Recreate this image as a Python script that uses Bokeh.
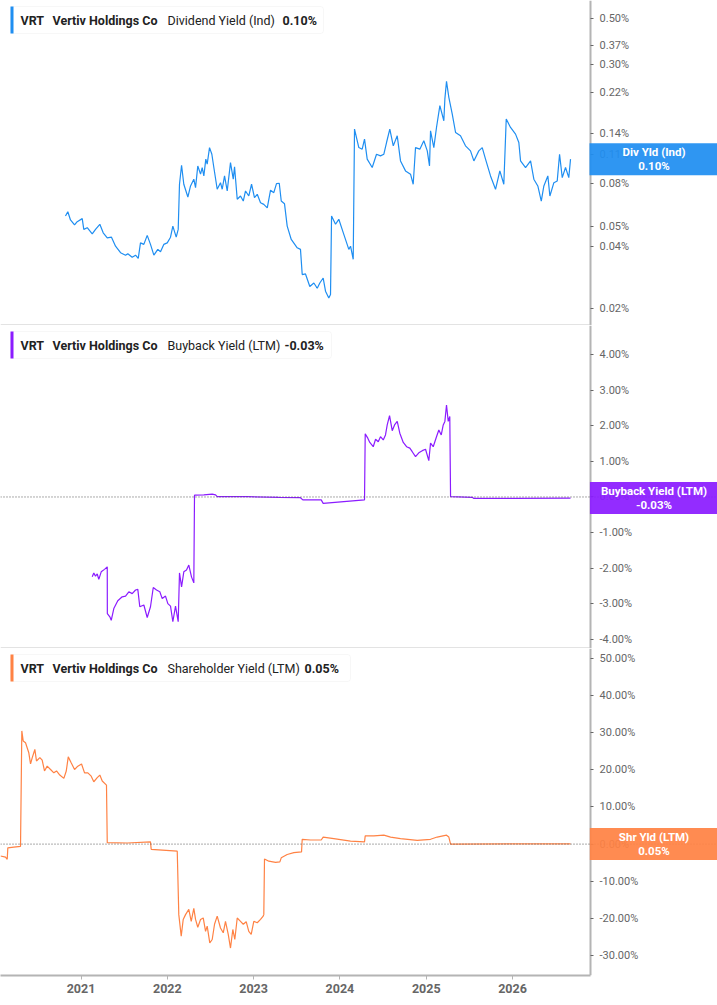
from bokeh.plotting import figure
from bokeh.models import (Range1d, FixedTicker, PrintfTickFormatter, Span, Label,
                          BoxAnnotation, ColumnDataSource, LinearAxis, LogAxis)
from bokeh.layouts import column
from bokeh.embed import file_html
from bokeh.resources import INLINE

ticker = "VRT"
company = "Vertiv Holdings Co"
year_ticks = [2021, 2022, 2023, 2024, 2025, 2026]

div_years = [2020.820, 2020.847, 2020.878, 2020.925, 2020.956, 2021.014, 2021.032, 2021.072, 2021.130, 2021.168,
             2021.218, 2021.257, 2021.304, 2021.353, 2021.400, 2021.458, 2021.516, 2021.542, 2021.593, 2021.632,
             2021.663, 2021.689, 2021.728, 2021.767, 2021.805, 2021.844, 2021.890, 2021.921, 2021.959, 2021.999,
             2022.037, 2022.064, 2022.103, 2022.126, 2022.141, 2022.165, 2022.191, 2022.238, 2022.269, 2022.307,
             2022.327, 2022.353, 2022.385, 2022.404, 2022.423, 2022.446, 2022.462, 2022.489, 2022.516, 2022.539,
             2022.578, 2022.616, 2022.636, 2022.663, 2022.694, 2022.732, 2022.764, 2022.779, 2022.810, 2022.848,
             2022.880, 2022.906, 2022.944, 2022.976, 2023.010, 2023.042, 2023.080, 2023.118, 2023.158, 2023.196,
             2023.234, 2023.265, 2023.297, 2023.320, 2023.358, 2023.389, 2023.436, 2023.505, 2023.543, 2023.563,
             2023.601, 2023.651, 2023.698, 2023.737, 2023.767, 2023.806, 2023.833, 2023.871, 2023.891, 2023.903,
             2023.949, 2023.987, 2024.045, 2024.103, 2024.123, 2024.154, 2024.169, 2024.219, 2024.258, 2024.285,
             2024.316, 2024.374, 2024.424, 2024.470, 2024.509, 2024.540, 2024.578, 2024.618, 2024.664, 2024.702,
             2024.760, 2024.818, 2024.849, 2024.876, 2024.926, 2024.972, 2025.012, 2025.038, 2025.050, 2025.088,
             2025.119, 2025.158, 2025.204, 2025.216, 2025.235, 2025.262, 2025.301, 2025.340, 2025.397, 2025.455,
             2025.513, 2025.552, 2025.609, 2025.649, 2025.687, 2025.745, 2025.803, 2025.853, 2025.899, 2025.927,
             2025.977, 2026.035, 2026.073, 2026.093, 2026.151, 2026.209, 2026.247, 2026.293, 2026.333, 2026.363,
             2026.409, 2026.433, 2026.479, 2026.518, 2026.545, 2026.576, 2026.614, 2026.652, 2026.672]
div_yield = [0.0559, 0.0586, 0.0535, 0.0506, 0.0525, 0.0543, 0.0482, 0.0491, 0.0459, 0.0482,
             0.0510, 0.0464, 0.0439, 0.0442, 0.0400, 0.0372, 0.0362, 0.0368, 0.0354, 0.0362,
             0.0349, 0.0415, 0.0408, 0.0451, 0.0408, 0.0362, 0.0386, 0.0376, 0.0408, 0.0415,
             0.0442, 0.0500, 0.0442, 0.0482, 0.0795, 0.0982, 0.0795, 0.0690, 0.0780, 0.0841,
             0.0766, 0.0974, 0.0889, 0.0957, 0.0872, 0.1050, 0.0993, 0.1194, 0.1109, 0.0957,
             0.0752, 0.0809, 0.0752, 0.0872, 0.0738, 0.1011, 0.0841, 0.0964, 0.0673, 0.0698,
             0.0660, 0.0738, 0.0698, 0.0795, 0.0685, 0.0711, 0.0648, 0.0636, 0.0612, 0.0744,
             0.0724, 0.0801, 0.0804, 0.0660, 0.0640, 0.0500, 0.0431, 0.0393, 0.0386, 0.0292,
             0.0294, 0.0256, 0.0266, 0.0251, 0.0266, 0.0281, 0.0243, 0.0225, 0.0234, 0.0559,
             0.0510, 0.0539, 0.0456, 0.0386, 0.0400, 0.0346, 0.1466, 0.1194, 0.1173, 0.1312,
             0.1050, 0.0957, 0.1109, 0.1089, 0.1109, 0.1263, 0.1466, 0.1217, 0.1360, 0.1030,
             0.0922, 0.0889, 0.0795, 0.1194, 0.1173, 0.1287, 0.1151, 0.0974, 0.1438, 0.1194,
             0.1492, 0.1900, 0.1608, 0.2048, 0.2488, 0.2085, 0.1733, 0.1411, 0.1360, 0.1217,
             0.1151, 0.1030, 0.1151, 0.1194, 0.1050, 0.0872, 0.0752, 0.0922, 0.0795, 0.1639,
             0.1492, 0.1386, 0.1263, 0.1030, 0.0957, 0.1030, 0.0841, 0.0780, 0.0660, 0.0780,
             0.0872, 0.0698, 0.0809, 0.0825, 0.1109, 0.0856, 0.0957, 0.0856, 0.1050]

buyback_years = [2021.130, 2021.148, 2021.168, 2021.188, 2021.206, 2021.234, 2021.272, 2021.304, 2021.305, 2021.334,
                 2021.350, 2021.380, 2021.426, 2021.477, 2021.516, 2021.554, 2021.593, 2021.632, 2021.658, 2021.681,
                 2021.728, 2021.767, 2021.805, 2021.837, 2021.875, 2021.913, 2021.941, 2021.979, 2022.006, 2022.037,
                 2022.064, 2022.095, 2022.126, 2022.141, 2022.165, 2022.191, 2022.222, 2022.249, 2022.280, 2022.307,
                 2022.315, 2022.423, 2022.520, 2022.559, 2022.578, 2022.926, 2023.292, 2023.543, 2023.570, 2023.783,
                 2023.806, 2024.045, 2024.285, 2024.293, 2024.323, 2024.346, 2024.386, 2024.413, 2024.444, 2024.470,
                 2024.502, 2024.528, 2024.548, 2024.575, 2024.606, 2024.633, 2024.664, 2024.694, 2024.734, 2024.772,
                 2024.810, 2024.838, 2024.876, 2024.914, 2024.954, 2024.992, 2025.030, 2025.050, 2025.081, 2025.119,
                 2025.146, 2025.174, 2025.197, 2025.216, 2025.235, 2025.255, 2025.273, 2025.282, 2025.533, 2025.552,
                 2026.015, 2026.672]
buyback_yield = [-2.24, -2.13, -2.22, -2.16, -2.31, -2.10, -2.03, -1.96, -3.27, -3.36,
                 -3.46, -3.13, -2.91, -2.80, -2.78, -2.66, -2.71, -2.61, -2.59, -3.08,
                 -3.03, -3.38, -3.08, -2.54, -2.61, -2.66, -2.85, -2.78, -2.99, -3.06,
                 -3.50, -3.06, -3.50, -2.13, -2.52, -2.10, -2.05, -1.91, -2.24, -2.41,
                 0.05, 0.06, 0.08, 0.06, 0.01, 0.01, -0.01, -0.02, -0.08, -0.08,
                 -0.18, -0.13, -0.08, 1.77, 1.65, 1.53, 1.41, 1.62, 1.55, 1.69,
                 1.60, 1.74, 2.02, 2.28, 1.86, 2.02, 2.12, 1.79, 1.53, 1.41,
                 1.37, 1.27, 1.13, 1.24, 1.30, 1.34, 1.02, 1.51, 1.41, 1.69,
                 1.88, 1.74, 2.02, 2.12, 2.58, 2.12, 2.26, 0.01, -0.01, -0.04,
                 -0.04, -0.03]

shr_years = [2020.067, 2020.125, 2020.145, 2020.152, 2020.221, 2020.299, 2020.314, 2020.330, 2020.357, 2020.395,
             2020.415, 2020.435, 2020.465, 2020.484, 2020.523, 2020.550, 2020.577, 2020.608, 2020.647, 2020.685,
             2020.716, 2020.754, 2020.801, 2020.829, 2020.852, 2020.886, 2020.925, 2020.963, 2021.006, 2021.041,
             2021.079, 2021.118, 2021.148, 2021.188, 2021.218, 2021.246, 2021.295, 2021.304, 2021.535, 2021.805,
             2021.813, 2022.115, 2022.133, 2022.161, 2022.184, 2022.211, 2022.249, 2022.277, 2022.307, 2022.327,
             2022.353, 2022.385, 2022.416, 2022.443, 2022.462, 2022.492, 2022.520, 2022.547, 2022.578, 2022.616,
             2022.648, 2022.674, 2022.706, 2022.732, 2022.759, 2022.782, 2022.810, 2022.848, 2022.880, 2022.914,
             2022.944, 2022.972, 2023.002, 2023.042, 2023.080, 2023.111, 2023.118, 2023.126, 2023.176, 2023.254,
             2023.304, 2023.320, 2023.389, 2023.466, 2023.555, 2023.563, 2023.659, 2023.783, 2023.806, 2023.929,
             2024.123, 2024.285, 2024.293, 2024.393, 2024.509, 2024.587, 2024.702, 2024.896, 2025.050, 2025.127,
             2025.235, 2025.262, 2025.282, 2026.054, 2026.672]
shr_yield = [-3.2, -3.5, -4.1, -1.0, -0.8, -0.6, 30.5, 27.8, 27.3, 24.6,
             21.6, 23.3, 25.5, 22.4, 23.3, 22.6, 19.7, 21.0, 20.1, 19.2,
             19.7, 18.6, 17.7, 19.7, 23.5, 21.9, 20.1, 21.0, 21.6, 19.2,
             19.2, 18.3, 16.8, 17.9, 18.6, 17.0, 15.9, 0.4, 0.3, 0.6,
             -1.4, -1.9, -19.0, -24.8, -20.3, -19.0, -17.6, -20.8, -17.3, -20.3,
             -22.4, -20.3, -19.9, -23.5, -22.1, -26.6, -25.7, -21.6, -19.4, -22.6,
             -23.9, -20.8, -24.3, -28.0, -23.0, -25.7, -19.9, -20.8, -21.6, -20.9,
             -23.5, -24.3, -20.8, -21.2, -20.3, -19.4, -19.0, -4.0, -4.6, -4.9,
             -4.8, -3.7, -2.8, -2.3, -2.1, 1.3, 1.1, 1.1, 1.9, 1.5,
             0.8, 0.6, 2.2, 2.2, 2.4, 1.9, 1.5, 1.0, 1.3, 1.9,
             2.4, 1.9, 0.0, 0.1, 0.05]

div_ticks = [0.02, 0.04, 0.05, 0.08, 0.11, 0.14, 0.22, 0.30, 0.37, 0.50]
buyback_ticks = [-4, -3, -2, -1, 0, 1, 2, 3, 4]
shr_ticks = [-30, -20, -10, 0, 10, 20, 30, 40, 50]

BLUE = "#1f8ef1"
PURPLE = "#8b1cff"
ORANGE = "#ff8244"
FONT = "Roboto"
WIDTH = 717
AXIS_PX = 590

# the value axis sits inside the frame so the value tags can overlap it
X_START = 2020.067
X_AXIS = 2026.904
X_END = 2028.375
x_range = Range1d(X_START, X_END)


def style_y_axis(ax, ticks):
    ax.fixed_location = X_AXIS
    ax.ticker = FixedTicker(ticks=ticks)
    ax.formatter = PrintfTickFormatter(format="%.2f%%")
    ax.axis_line_color = "#b4b4b4"
    ax.axis_line_width = 2
    ax.major_tick_line_color = "#666666"
    ax.major_tick_in = 0
    ax.major_tick_out = 3
    ax.minor_tick_out = 0
    ax.minor_tick_in = 0
    ax.major_label_standoff = 6
    ax.major_label_text_font = FONT
    ax.major_label_text_font_size = "11px"
    ax.major_label_text_color = "#666666"


def make_panel(years, values, color, y_range, ticks, frame_h, log=False, bottom=False):
    p = figure(
        width=WIDTH, frame_height=frame_h,
        x_range=x_range, y_range=y_range,
        y_axis_type="log" if log else "linear",
        y_axis_location=None,
        x_axis_location=None,
        min_border_left=0, min_border_top=0, min_border_right=0,
        min_border_bottom=30 if bottom else 0,
        output_backend="svg", toolbar_location=None,
    )
    p.outline_line_color = None
    p.grid.visible = False

    source = ColumnDataSource(dict(year=years, value=values))
    p.line("year", "value", source=source, line_color=color, line_width=1.2)

    ax = LogAxis() if log else LinearAxis()
    style_y_axis(ax, ticks)
    p.add_layout(ax, "right")

    if bottom:
        xa = LinearAxis(bounds=(X_START, X_AXIS))
        xa.ticker = FixedTicker(ticks=year_ticks)
        xa.formatter = PrintfTickFormatter(format="%d")
        xa.axis_line_color = "#b4b4b4"
        xa.axis_line_width = 2
        xa.major_tick_line_color = "#b4b4b4"
        xa.major_tick_in = 0
        xa.major_tick_out = 4
        xa.minor_tick_out = 0
        xa.minor_tick_in = 0
        xa.major_label_standoff = 4
        xa.major_label_text_font = FONT
        xa.major_label_text_font_style = "bold"
        xa.major_label_text_font_size = "12.5px"
        xa.major_label_text_color = "#666666"
        p.add_layout(xa, "below")
    else:
        p.add_layout(BoxAnnotation(left=X_START, right=X_AXIS, bottom=0, top=1,
                                   bottom_units="screen", top_units="screen",
                                   fill_color="#c8c8c8", fill_alpha=1, line_color=None))
    return p


def add_legend(p, frame_h, color, parts, box_right):
    top = frame_h - 6
    p.add_layout(BoxAnnotation(left=10, right=box_right, top=top, bottom=top - 27,
                               left_units="screen", right_units="screen",
                               top_units="screen", bottom_units="screen",
                               fill_color="white", fill_alpha=1,
                               line_color="#e4e4e4", line_width=1, border_radius=3))
    p.add_layout(BoxAnnotation(left=10, right=13, top=top, bottom=top - 27,
                               left_units="screen", right_units="screen",
                               top_units="screen", bottom_units="screen",
                               fill_color=color, fill_alpha=1, line_color=None))
    for text, x, style in parts:
        p.add_layout(Label(x=x, y=top - 13.5, x_units="screen", y_units="screen", text=text,
                           text_baseline="middle", text_font=FONT, text_font_style=style,
                           text_font_size="12.5px", text_color="#222222"))


def add_value_box(p, value, text, color, pad):
    p.add_layout(Label(x=(AXIS_PX + WIDTH) / 2, y=value, x_units="screen", y_units="data",
                       text=text, text_align="center", text_baseline="middle",
                       text_font=FONT, text_font_style="bold", text_font_size="11.5px",
                       text_color="white", text_line_height=1.0,
                       background_fill_color=color, background_fill_alpha=0.93,
                       padding=dict(x=pad, y=2)))


panels = [
    dict(years=div_years, values=div_yield, color=BLUE, rng=Range1d(0.0166, 0.61), ticks=div_ticks,
         h=325, log=True, measure="Dividend Yield (Ind)", value="0.10%", box="Div Yld (Ind)",
         vx=282, right=323, pad=33),
    dict(years=buyback_years, values=buyback_yield, color=PURPLE, rng=Range1d(-4.25, 4.81),
         ticks=buyback_ticks, h=323, log=False, measure="Buyback Yield (LTM)", value="-0.03%",
         box="Buyback Yield (LTM)", vx=284, right=331, pad=11),
    dict(years=shr_years, values=shr_yield, color=ORANGE, rng=Range1d(-35.4, 52.7), ticks=shr_ticks,
         h=327, log=False, measure="Shareholder Yield (LTM)", value="0.05%", box="Shr Yld (LTM)",
         vx=304, right=350, pad=29),
]

figs = []
for i, cfg in enumerate(panels):
    p = make_panel(cfg["years"], cfg["values"], cfg["color"], cfg["rng"], cfg["ticks"],
                   cfg["h"], log=cfg["log"], bottom=(i == len(panels) - 1))
    if not cfg["log"]:
        p.add_layout(Span(location=0, dimension="width", line_color="#555555",
                          line_width=1, line_dash="1 2"))
    parts = [(ticker, 20, "bold"), (company, 52, "bold"),
             (cfg["measure"], 167, "normal"), (cfg["value"], cfg["vx"], "bold")]
    add_legend(p, cfg["h"], cfg["color"], parts, cfg["right"])
    add_value_box(p, cfg["values"][-1], cfg["box"] + "\n" + cfg["value"], cfg["color"], cfg["pad"])
    figs.append(p)

layout = column(*figs, spacing=0)
open("out.html", "w").write(file_html(layout, INLINE))
